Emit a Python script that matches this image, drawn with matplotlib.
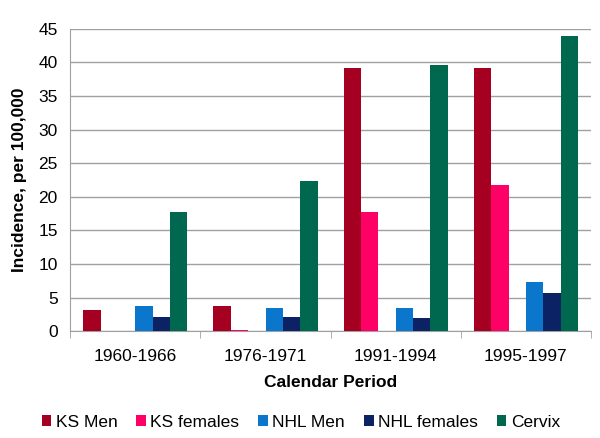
import matplotlib.pyplot as plt
import numpy as np

plt.rcParams['font.family'] = ['Liberation Sans', 'DejaVu Sans']

# Data
periods = ['1960-1966', '1976-1971', '1991-1994', '1995-1997']
ks_men = [3.1, 3.7, 39.2, 39.2]
ks_females = [0.0, 0.2, 17.8, 21.7]
nhl_men = [3.8, 3.5, 3.5, 7.3]
nhl_females = [2.1, 2.1, 2.0, 5.7]
cervix = [17.7, 22.4, 39.6, 44.0]

series = [
    ('KS Men', ks_men, '#A50021', 0),
    ('KS females', ks_females, '#FF0066', 1),
    ('NHL Men', nhl_men, '#0A77CC', 3),
    ('NHL females', nhl_females, '#0B2365', 4),
    ('Cervix', cervix, '#00684F', 5),
]

fig, ax = plt.subplots(figsize=(6, 4.38), dpi=100)
fig.subplots_adjust(left=0.117, right=0.985, top=0.934, bottom=0.244)

x = np.arange(len(periods))
w = 1 / 7.5  # 6 slots (one empty) plus 150% gap
for name, vals, col, slot in series:
    ax.bar(x - 0.5 + 0.75 * w + (slot + 0.5) * w, vals, w, color=col, label=name, zorder=3)

ax.set_xlim(-0.5, len(periods) - 0.5)
ax.set_ylim(0, 45)
ax.set_yticks(range(0, 46, 5))
ax.yaxis.grid(True, color='#A0A0A0', linewidth=1, zorder=0)
ax.set_xticks(x)
ax.set_xticklabels(periods)
ax.set_xticks(np.arange(-0.5, len(periods), 1), minor=True)
ax.tick_params(axis='x', which='major', length=0, pad=13, labelsize=12.5)
ax.tick_params(axis='x', which='minor', length=5, color='#A0A0A0')
ax.tick_params(axis='y', length=0, labelsize=12.5, pad=9)

for s in ['top', 'right']:
    ax.spines[s].set_visible(False)
for s in ['left', 'bottom']:
    ax.spines[s].set_color('#A0A0A0')

ax.set_xlabel('Calendar Period', fontsize=12.5, fontweight='bold', labelpad=8)
ax.set_ylabel('Incidence, per 100,000', fontsize=12.5, fontweight='bold', labelpad=8)

ax.legend(loc='upper center', bbox_to_anchor=(0.443, -0.225), ncol=5, frameon=False,
          fontsize=12.5, handlelength=0.55, handleheight=0.55, handletextpad=0.25,
          columnspacing=1.1)

fig.savefig('out.png')
